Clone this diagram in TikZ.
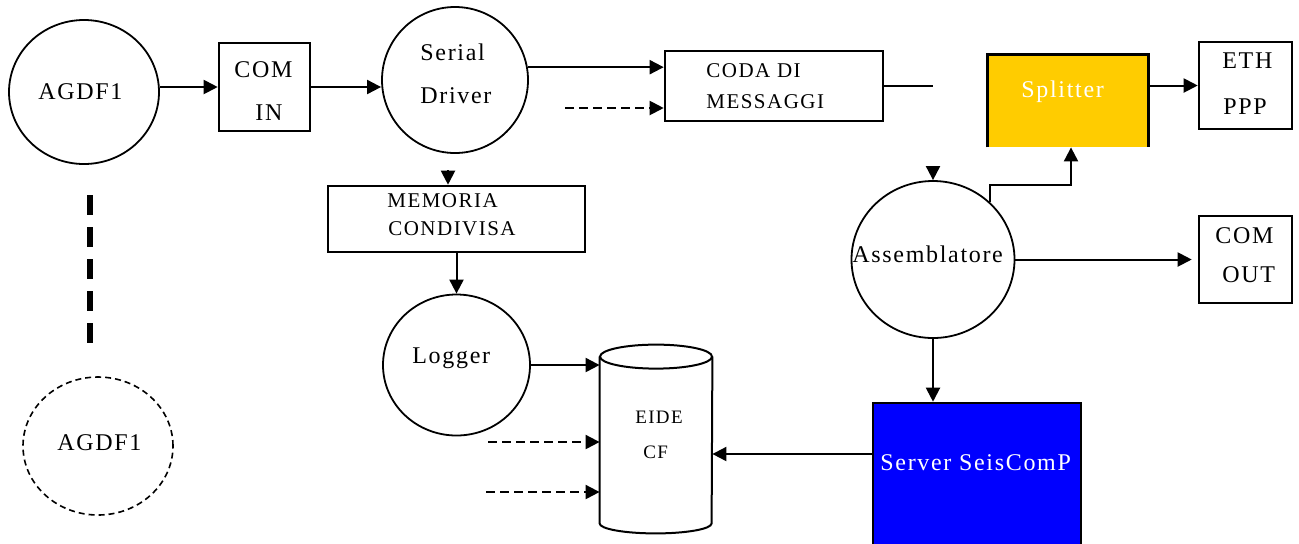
\documentclass[tikz,border=0pt]{standalone}
\usepackage{fontspec}
\setmainfont{Liberation Serif}[LetterSpace=7]
\usetikzlibrary{arrows.meta,shapes.geometric}
\definecolor{splitteryellow}{RGB}{255,204,0}
\definecolor{serverblue}{RGB}{0,0,255}
\begin{document}
\begin{tikzpicture}[x=0.5pt,y=-0.5pt,
  proc/.style={ellipse,draw,line width=0.9pt,inner sep=0pt},
  remoteproc/.style={proc,line width=0.8pt,dash pattern=on 3pt off 2pt},
  box/.style={rectangle,draw,line width=1.3pt,inner sep=0pt},
  txt/.style={inner sep=0pt,anchor=base west,font=\fontsize{12}{14}\selectfont},
  smalltxt/.style={txt,font=\fontsize{10.5}{12}\selectfont},
  tinytxt/.style={txt,font=\fontsize{9.5}{11}\selectfont},
  flow/.style={line width=1pt,-{Triangle[length=7pt,width=7pt]}},
  feed/.style={flow,dash pattern=on 4.5pt off 2.5pt},
  link/.style={line width=1pt},
  etcline/.style={line width=3pt,dash pattern=on 10pt off 6pt}
]
\path[use as bounding box] (0,0) rectangle (1299,543);
\clip (0,0) rectangle (1299,543);

% ---- acquisition side
\node[proc,minimum width=75pt,minimum height=72pt] (agdf1) at (84,92) {};
\node[txt] (agdf1-t) at (38,99) {AGDF1};
\node[box,minimum width=45.5pt,minimum height=44pt] (comin) at (264.5,87) {};
\node[txt] (comin-t1) at (234,77) {COM};
\node[txt] (comin-t2) at (255,120) {IN};
\node[proc,minimum width=73pt,minimum height=73pt] (serial) at (455,80) {};
\node[txt] (serial-t1) at (420,60) {Serial};
\node[txt] (serial-t2) at (420,103) {Driver};

\coordinate (more1) at (90,195);
\coordinate (more2) at (90,343);
\draw[etcline] (more1) -- (more2);
\node[remoteproc,minimum width=75pt,minimum height=69pt] (agdf1b) at (98,446) {};
\node[txt] (agdf1b-t) at (57,450) {AGDF1};

% ---- message queue and shared memory
\node[box,minimum width=109pt,minimum height=35pt] (coda) at (774,86) {};
\node[smalltxt] (coda-t1) at (706,77) {CODA DI};
\node[smalltxt] (coda-t2) at (706,108) {MESSAGGI};
\node[box,minimum width=128.5pt,minimum height=33pt] (memoria) at (456.5,219) {};
\node[smalltxt] (memoria-t1) at (387,207) {MEMORIA};
\node[smalltxt] (memoria-t2) at (388,235) {CONDIVISA};

% ---- logger and storage
\node[proc,minimum width=73.5pt,minimum height=70.5pt] (logger) at (456.5,365) {};
\node[txt] (logger-t) at (412,363) {Logger};
\node[rectangle,inner sep=0pt,minimum width=56pt,minimum height=94pt] (eide) at (656,439) {};
\draw[line width=1pt] ([yshift=-6pt]eide.north) ellipse [x radius=28pt,y radius=6pt];
\draw[line width=1pt] ([yshift=-6pt]eide.north west) -- ([yshift=5pt]eide.south west)
  arc[start angle=180,end angle=360,x radius=28pt,y radius=5pt]
  -- ([yshift=-6pt]eide.north east);
\node[tinytxt] (eide-t1) at (635,423) {EIDE};
\node[tinytxt] (eide-t2) at (643,458) {CF};

% ---- assembler, outputs and server
\node[proc,minimum width=81.5pt,minimum height=78.5pt] (assembl) at (933,259.5) {};
\node[txt] (assembl-t) at (852,262) {Assemblatore};
\node[rectangle,fill=splitteryellow,inner sep=0pt,minimum width=80pt,minimum height=46pt] (splitter) at (1068,101) {};
\draw[line width=1.3pt] (splitter.south west) -- (splitter.north west) -- (splitter.north east) -- (splitter.south east);
\node[txt,text=white] (splitter-t) at (1021,97) {Splitter};
\node[box,minimum width=46.5pt,minimum height=43.5pt] (ethppp) at (1245.5,85.5) {};
\node[txt] (ethppp-t1) at (1222,68) {ETH};
\node[txt] (ethppp-t2) at (1223,114) {PPP};
\node[box,minimum width=46.5pt,minimum height=43.5pt] (comout) at (1245.5,259.5) {};
\node[txt] (comout-t1) at (1215,243) {COM};
\node[txt] (comout-t2) at (1222,282) {OUT};
\node[box,fill=serverblue,minimum width=104pt,minimum height=78.5pt] (server) at (977,481.5) {};
\node[txt,text=white] (server-t) at (880,470) {Server SeisComP};

% ---- connectors
\draw[flow] (comin.west -| agdf1.east) -- (comin.west);
\draw[flow] (comin.east) -- (comin.east -| serial.west);
\draw[flow] (serial.10) -- (serial.10 -| coda.west);
\coordinate (qfeed) at (565,108);
\draw[feed] (qfeed) -- (qfeed -| coda.west);
\coordinate (qout) at (933,86);
\draw[link] (coda.east) -- (qout);
\coordinate (qin) at (933,166);
\draw[flow] (qin) -- (assembl.north);
\coordinate (sdrop) at (448,170);
\draw[flow] (sdrop) -- (sdrop |- memoria.north);
\draw[flow] (memoria.south) -- (logger.north);
\draw[flow] (logger.east) -- (logger.east -| eide.west);
\coordinate (f1) at (488,442);
\coordinate (f2) at (486,492);
\draw[feed] (f1) -- (f1 -| eide.west);
\draw[feed] (f2) -- (f2 -| eide.west);
\coordinate (sv) at (server.west |- 0,454);
\draw[flow] (sv) -- (sv -| eide.east);
\draw[flow] (assembl.south) -- (assembl.south |- server.north);
\coordinate (splitbend) at (1071,185);
\draw[flow] (assembl.45) |- (splitbend) -- (splitbend |- splitter.south);
\coordinate (coin) at ([xshift=-3pt]comout.west);
\draw[flow] (assembl.east) -- (coin |- assembl.east);
\draw[flow] (splitter.east |- ethppp.west) -- (ethppp.west);
\end{tikzpicture}
\end{document}
